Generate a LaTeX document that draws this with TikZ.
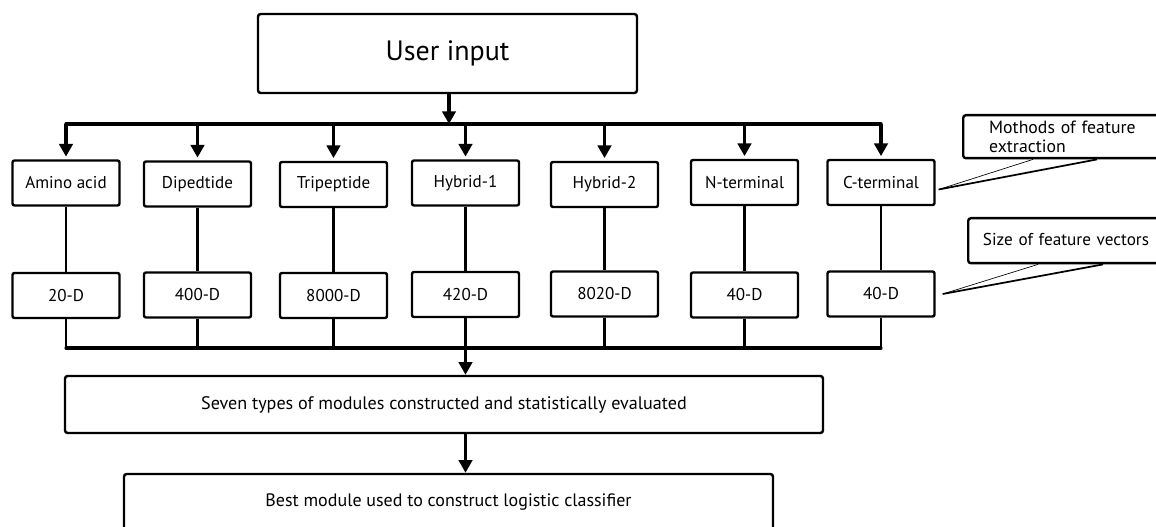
\documentclass[tikz,border=0pt]{standalone}
\usepackage{fontspec}
\setmainfont{PT Sans}
\usetikzlibrary{arrows.meta,calc}
\tikzset{
  box/.style={draw, line width=1.8pt, rounded corners=1.5pt, minimum width=80.25pt, minimum height=33.75pt, inner sep=0pt, font=\fontsize{12.8}{15}\selectfont},
  bigbox/.style={draw, line width=1.8pt, rounded corners=2pt, inner sep=0pt},
  thickarrow/.style={line width=2.6pt, -{Triangle[length=9.5pt,width=10pt]}},
  thinline/.style={line width=1.8pt},
  busline/.style={line width=2.6pt, line cap=round},
  leader/.style={line width=0.5pt},
  leaderthick/.style={line width=1.3pt},
}
\begin{document}
\begin{tikzpicture}[x=0.75pt,y=-0.75pt]
\useasboundingbox (0,0) rectangle (1156,527);
% top
\node[bigbox, minimum width=284.25pt, minimum height=59.25pt, font=\fontsize{21}{25}\selectfont] (ui) at (447.5,53.5) {User input};
% row 1
\node[box] (a1) at (66,183) {Amino acid};
\node[box] (a2) at (197.5,184) {Dipedtide};
\node[box] (a3) at (333.5,184.5) {Tripeptide};
\node[box] (a4) at (465.5,183) {Hybrid-1};
\node[box] (a5) at (604.5,184.5) {Hybrid-2};
\node[box] (a6) at (744.5,182.5) {N-terminal};
\node[box] (a7) at (881,182.5) {C-terminal};
% row 2
\node[box] (b1) at (66,295.5) {20-D};
\node[box] (b2) at (197.5,295) {400-D};
\node[box] (b3) at (333.5,295.5) {8000-D};
\node[box] (b4) at (465.5,294.5) {420-D};
\node[box] (b5) at (604.5,294) {8020-D};
\node[box] (b6) at (744.5,295) {40-D};
\node[box] (b7) at (881,294) {40-D};
% bottom boxes
\node[bigbox, minimum width=568.5pt, minimum height=42.75pt, font=\fontsize{13.6}{16}\selectfont] (seven) at (444,404.5) {Seven types of modules constructed and statistically evaluated};
\node[bigbox, minimum width=486.75pt, minimum height=45pt, font=\fontsize{13.5}{16}\selectfont, text depth=6pt] (best) at (448.5,504) {Best module used to construct logistic classifier};
% side notes
\node[bigbox, anchor=north west, minimum height=32.25pt, inner xsep=19.5pt, text width=118.5pt, align=left, font=\fontsize{13.3}{14.25}\selectfont] (meth) at (962,114) {Mothods of feature\\extraction};
\node[bigbox, anchor=north west, minimum height=33.75pt, inner xsep=11pt, text width=144pt, align=left, font=\fontsize{12.9}{16}\selectfont] (size) at (967,217) {\raisebox{2pt}{Size of feature vectors}};
% top bus
\coordinate (bus1) at (0,124);
\coordinate (mx) at (449,0);
\draw[busline] (a1 |- bus1) -- (a7 |- bus1);
\draw[thickarrow] (ui.south -| mx) -- (mx |- bus1);
\foreach \i in {1,...,7} {
  \draw[thickarrow, shorten >=2pt] (a\i |- bus1) -- (a\i.north);
  \draw[thinline] (a\i.south) -- (b\i.north);
}
% lower bus
\coordinate (bus2) at (0,348);
\draw[busline, line width=2.3pt] (b1 |- bus2) -- (b7 |- bus2);
\foreach \i in {1,2,3,5,6,7} {
  \draw[thinline] (b\i.south) -- (b\i |- bus2);
}
\draw[thickarrow] (b4.south) -- (seven.north -| b4);
\draw[thickarrow] (seven.south -| b4) -- (best.north -| b4);
% leaders
\coordinate (cm) at ($(a7.east)+(3,7)$);
\draw[leader] (cm) -- ($(meth.south west)+(71,0)$);
\draw[leaderthick] (cm) -- ($(meth.south west)+(135,0)$);
\coordinate (cs) at ($(b7.east)+(7,0)$);
\draw[leader] (cs) -- ($(size.south west)+(71,0)$);
\draw[leaderthick] (cs) -- ($(size.south west)+(136,0)$);
\end{tikzpicture}
\end{document}
